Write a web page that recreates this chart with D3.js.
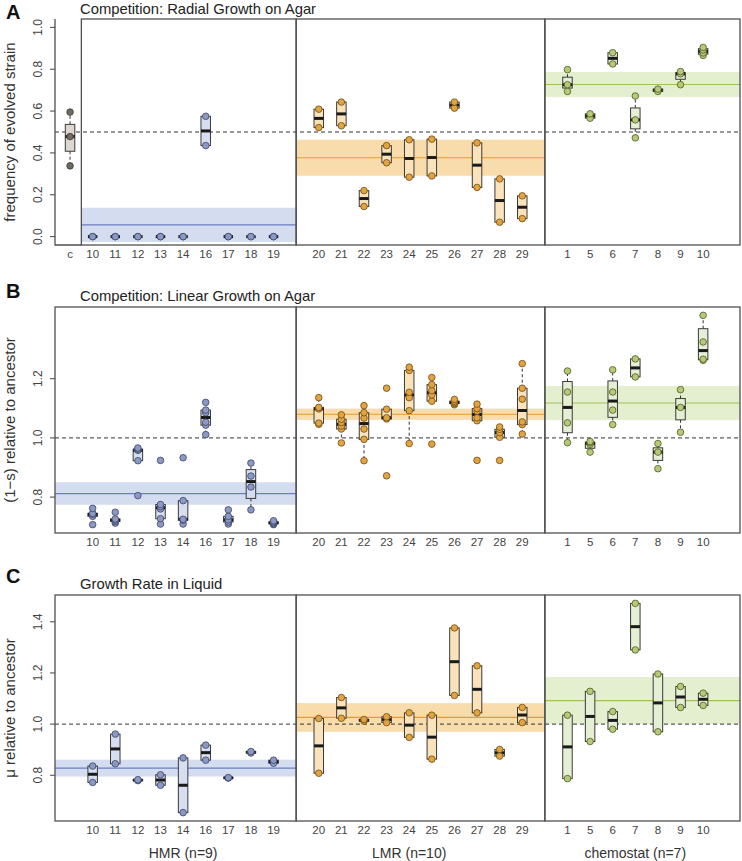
<!DOCTYPE html>
<html>
<head>
<meta charset="utf-8">
<script src="https://cdn.jsdelivr.net/npm/d3@7"></script>
<style>
  body { margin: 0; background: #fff; }
  text { font-family: "Liberation Sans", Arial, Helvetica, sans-serif; }
</style>
</head>
<body>
<svg id="chart"></svg>
<script>
// strain ids per selection regime
const hmrIds = ["10", "11", "12", "13", "14", "16", "17", "18", "19"];
const lmrIds = ["20", "21", "22", "23", "24", "25", "26", "27", "28", "29"];
const chemoIds = ["1", "5", "6", "7", "8", "9", "10"];
const groupNames = ["HMR (n=9)", "LMR (n=10)", "chemostat (n=7)"];

// A: radial growth competition (frequency of evolved strain)
const radialCtrl = [0.338, 0.478, 0.595];
const radialHMR = [[0, 0], [0, 0], [0, 0], [0, 0], [0, 0], [0.435, 0.575], [0, 0], [0, 0], [0, 0]];
const radialLMR = [[0.521, 0.609], [0.530, 0.643], [0.144, 0.220], [0.353, 0.435], [0.284, 0.463],
  [0.290, 0.466], [0.614, 0.643], [0.235, 0.448], [0.069, 0.276], [0.086, 0.195]];
const radialChemo = [[0.694, 0.726, 0.798], [0.566, 0.587], [0.825, 0.879], [0.472, 0.558, 0.672],
  [0.694, 0.705], [0.726, 0.778, 0.789], [0.866, 0.878, 0.892, 0.904]];
const radialMean = [0.056, 0.377, 0.727];
const radialHalf = [0.082, 0.086, 0.060];

// B: linear growth competition, (1-s)
const linearHMR = [
  [0.707, 0.735, 0.742, 0.745, 0.762],
  [0.712, 0.718, 0.722, 0.726, 0.749],
  [0.805, 0.923, 0.958, 0.962, 0.966],
  [0.709, 0.727, 0.760, 0.768, 0.775, 0.924],
  [0.709, 0.722, 0.725, 0.788, 0.933],
  [1.011, 1.043, 1.053, 1.085, 1.094, 1.120],
  [0.709, 0.716, 0.723, 0.735, 0.757],
  [0.757, 0.834, 0.871, 0.915],
  [0.707, 0.710, 0.713, 0.716, 0.720]
];
const linearLMR = [
  [1.046, 1.050, 1.098, 1.103, 1.136],
  [0.983, 1.030, 1.040, 1.052, 1.063, 1.078],
  [0.923, 0.995, 1.030, 1.067, 1.085, 1.109],
  [0.872, 1.064, 1.068, 1.097, 1.168],
  [0.981, 1.092, 1.136, 1.154, 1.228, 1.239],
  [0.979, 1.124, 1.145, 1.160, 1.180, 1.204],
  [1.112, 1.116, 1.120, 1.124, 1.130],
  [0.924, 1.058, 1.068, 1.090, 1.099, 1.114],
  [0.924, 1.002, 1.018, 1.029, 1.037],
  [1.013, 1.045, 1.054, 1.131, 1.168, 1.251]
];
const linearChemo = [
  [0.984, 1.051, 1.155, 1.226],
  [0.952, 0.978, 0.984, 0.988],
  [1.045, 1.094, 1.155, 1.230],
  [1.206, 1.267],
  [0.896, 0.952, 0.981],
  [1.019, 1.103, 1.163],
  [1.262, 1.266, 1.324, 1.414]
];
const linearMean = [0.812, 1.080, 1.118];
const linearHalf = [0.038, 0.019, 0.058];

// C: growth rate in liquid
const liquidHMR = [[0.772, 0.836], [0.845, 0.961], [0.779, 0.783], [0.761, 0.802], [0.654, 0.868],
  [0.859, 0.918], [0.789, 0.791], [0.887, 0.893], [0.847, 0.859]];
const liquidLMR = [[0.808, 1.022], [1.023, 1.104], [1.012, 1.018], [1.006, 1.029], [0.948, 1.044],
  [0.863, 1.035], [1.112, 1.376], [1.044, 1.228], [0.875, 0.901], [1.006, 1.065]];
const liquidChemo = [[0.787, 1.035], [0.932, 1.128], [0.980, 1.049], [1.290, 1.472], [0.970, 1.196],
  [1.065, 1.147], [1.073, 1.121]];
const liquidMean = [0.828, 1.026, 1.092];
const liquidHalf = [0.033, 0.056, 0.092];

const W = 742, H = 861;
const left = 55, right = 740;

const pal = {
  c: { box: "#dcd8d0", pt: "#6f6b62", ptStroke: "#3d3a35" },
  H: { box: "#d7def0", pt: "#8b99c5", ptStroke: "#3d4566", band: "#d4dcef", line: "#6a7fc2" },
  L: { box: "#fae3ba", pt: "#e2a341", ptStroke: "#6f4c14", band: "#f8dcab", line: "#e79b2c" },
  C: { box: "#e5efd3", pt: "#b6c977", ptStroke: "#4f5b25", band: "#e3efcf", line: "#9fc253" }
};

const panels = [
  { letter: "A", title: "Competition: Radial Growth on Agar", ylab: "frequency of evolved strain",
    top: 19, bottom: 245, ylim: [0, 1], ticks: [0, 0.2, 0.4, 0.6, 0.8, 1.0], ref: 0.5,
    ctrl: radialCtrl, groups: [radialHMR, radialLMR, radialChemo], mean: radialMean, half: radialHalf,
    letterY: 19, titleY: 14 },
  { letter: "B", title: "Competition: Linear Growth on Agar", ylab: "(1\u2212s) relative to ancestor",
    top: 307, bottom: 533, ylim: null, ticks: [0.8, 1.0, 1.2], ref: 1.0,
    ctrl: null, groups: [linearHMR, linearLMR, linearChemo], mean: linearMean, half: linearHalf,
    letterY: 298, titleY: 301 },
  { letter: "C", title: "Growth Rate in Liquid", ylab: "\u03bc relative to ancestor",
    top: 595, bottom: 821, ylim: null, ticks: [0.8, 1.0, 1.2, 1.4], ref: 1.0,
    ctrl: null, groups: [liquidHMR, liquidLMR, liquidChemo], mean: liquidMean, half: liquidHalf,
    letterY: 583, titleY: 589 }
];

const groupIds = [hmrIds, lmrIds, chemoIds];
const groupKey = ["H", "L", "C"];

const keys = ["c", ...hmrIds.map(d => "H" + d), "gap1", ...lmrIds.map(d => "L" + d), "gap2",
  ...chemoIds.map(d => "C" + d)];
const x = d3.scalePoint().domain(keys).range([left, right]).padding(1.148).align(0.29);
const step = x.step();
const boxW = step * 0.42;

const sep0 = (x("c") + x("H10")) / 2;
const sep1 = x("gap1");
const sep2 = x("gap2");

const svg = d3.select("#chart").attr("width", W).attr("height", H);

// Tukey hinges like R's fivenum
function fivenum(v) {
  const s = v.slice().sort((a, b) => a - b);
  const n = s.length;
  const n4 = Math.floor((n + 3) / 2) / 2;
  const d = [1, n4, (n + 1) / 2, n + 1 - n4, n];
  return d.map(k => 0.5 * (s[Math.floor(k) - 1] + s[Math.ceil(k) - 1]));
}

function drawBox(g, y, key, vals, col) {
  const f = fivenum(vals);
  const iqr = f[3] - f[1];
  const lo = d3.min(vals.filter(v => v >= f[1] - 1.5 * iqr));
  const hi = d3.max(vals.filter(v => v <= f[3] + 1.5 * iqr));
  const cx = x(key);
  const wg = g.append("g");
  [[f[1], lo], [f[3], hi]].forEach(([a, b]) => {
    if (Math.abs(y(a) - y(b)) < 0.5) return;
    wg.append("line").attr("x1", cx).attr("x2", cx).attr("y1", y(a)).attr("y2", y(b))
      .attr("stroke", "#333").attr("stroke-width", 1).attr("stroke-dasharray", "3,2.5");
    wg.append("line").attr("x1", cx - boxW / 4).attr("x2", cx + boxW / 4).attr("y1", y(b)).attr("y2", y(b))
      .attr("stroke", "#333").attr("stroke-width", 1);
  });
  wg.append("rect")
    .attr("x", cx - boxW / 2).attr("width", boxW)
    .attr("y", y(f[3])).attr("height", Math.max(0, y(f[1]) - y(f[3])))
    .attr("fill", col.box).attr("stroke", "#3a3a3a").attr("stroke-width", 1);
  wg.append("line")
    .attr("x1", cx - boxW / 2).attr("x2", cx + boxW / 2)
    .attr("y1", y(f[2])).attr("y2", y(f[2]))
    .attr("stroke", "#1a1a1a").attr("stroke-width", 3);
}

function drawPoints(g, y, key, vals, col) {
  g.selectAll(null).data(vals).enter().append("circle")
    .attr("cx", x(key)).attr("cy", d => y(d)).attr("r", 3.3)
    .attr("fill", col.pt).attr("stroke", col.ptStroke).attr("stroke-width", 0.8);
}

panels.forEach(p => {
  const allVals = p.groups.flat(2);
  const lim = p.ylim || d3.extent(allVals);
  const pad = (lim[1] - lim[0]) * 0.04;
  const y = d3.scaleLinear().domain([lim[0] - pad, lim[1] + pad]).range([p.bottom, p.top]);
  const g = svg.append("g");

  const hmrLeft = p.ctrl ? sep0 : left;
  const bounds = [[hmrLeft, sep1], [sep1, sep2], [sep2, right]];

  // confidence bands and group means
  bounds.forEach((b, i) => {
    const col = pal[groupKey[i]];
    g.append("rect")
      .attr("x", b[0]).attr("width", b[1] - b[0])
      .attr("y", y(p.mean[i] + p.half[i]))
      .attr("height", y(p.mean[i] - p.half[i]) - y(p.mean[i] + p.half[i]))
      .attr("fill", col.band);
    g.append("line")
      .attr("x1", b[0]).attr("x2", b[1]).attr("y1", y(p.mean[i])).attr("y2", y(p.mean[i]))
      .attr("stroke", col.line).attr("stroke-width", 1.2);
  });

  // reference line
  g.append("line")
    .attr("x1", left).attr("x2", right).attr("y1", y(p.ref)).attr("y2", y(p.ref))
    .attr("stroke", "#333").attr("stroke-width", 1).attr("stroke-dasharray", "4,3");

  // boxes then points
  if (p.ctrl) {
    drawBox(g, y, "c", p.ctrl, pal.c);
    drawPoints(g, y, "c", p.ctrl, pal.c);
  }
  p.groups.forEach((grp, i) => {
    const col = pal[groupKey[i]];
    grp.forEach((vals, j) => {
      const key = groupKey[i] + groupIds[i][j];
      drawBox(g, y, key, vals, col);
      drawPoints(g, y, key, vals, col);
    });
  });

  // frames
  bounds.forEach(b => {
    g.append("rect").attr("x", b[0]).attr("y", p.top)
      .attr("width", b[1] - b[0]).attr("height", p.bottom - p.top)
      .attr("fill", "none").attr("stroke", "#505050").attr("stroke-width", 1.3);
  });
  if (p.ctrl) {
    g.append("path")
      .attr("d", `M${left},${p.top}V${p.bottom}H${sep0}`)
      .attr("fill", "none").attr("stroke", "#505050").attr("stroke-width", 1.3);
  }

  // y axis
  const yt = g.append("g");
  p.ticks.forEach(t => {
    yt.append("line").attr("x1", left - 5).attr("x2", left).attr("y1", y(t)).attr("y2", y(t))
      .attr("stroke", "#444").attr("stroke-width", 1);
    yt.append("text")
      .attr("transform", `translate(41.5,${y(t)}) rotate(-90)`)
      .attr("text-anchor", "middle").attr("font-size", 12).attr("fill", "#444")
      .text(d3.format(".1f")(t));
  });
  g.append("text")
    .attr("transform", `translate(15,${(p.top + p.bottom) / 2}) rotate(-90)`)
    .attr("text-anchor", "middle").attr("font-size", 15).attr("fill", "#333")
    .text(p.ylab);

  // x tick labels
  const xKeys = (p.ctrl ? ["c"] : []).concat(
    ...groupIds.map((ids, i) => ids.map(d => groupKey[i] + d)));
  g.selectAll(null).data(xKeys).enter().append("text")
    .attr("x", d => x(d)).attr("y", p.bottom + 13.3)
    .attr("text-anchor", "middle").attr("font-size", 11.5).attr("fill", "#444")
    .text(d => d === "c" ? "c" : d.slice(1));

  // title and panel letter
  g.append("text").attr("x", 80).attr("y", p.titleY)
    .attr("font-size", 14.8).attr("fill", "#222").text(p.title);
  g.append("text").attr("x", 6).attr("y", p.letterY)
    .attr("font-size", 20).attr("font-weight", "bold").attr("fill", "#111").text(p.letter);

  // group names under the last panel
  if (p.letter === "C") {
    groupIds.forEach((ids, i) => {
      const mid = ids[Math.floor((ids.length - 1) / 2)];
      g.append("text").attr("x", x(groupKey[i] + mid)).attr("y", p.bottom + 37)
        .attr("text-anchor", "middle").attr("font-size", 14).attr("fill", "#333")
        .text(groupNames[i]);
    });
  }
});
</script>
</body>
</html>
